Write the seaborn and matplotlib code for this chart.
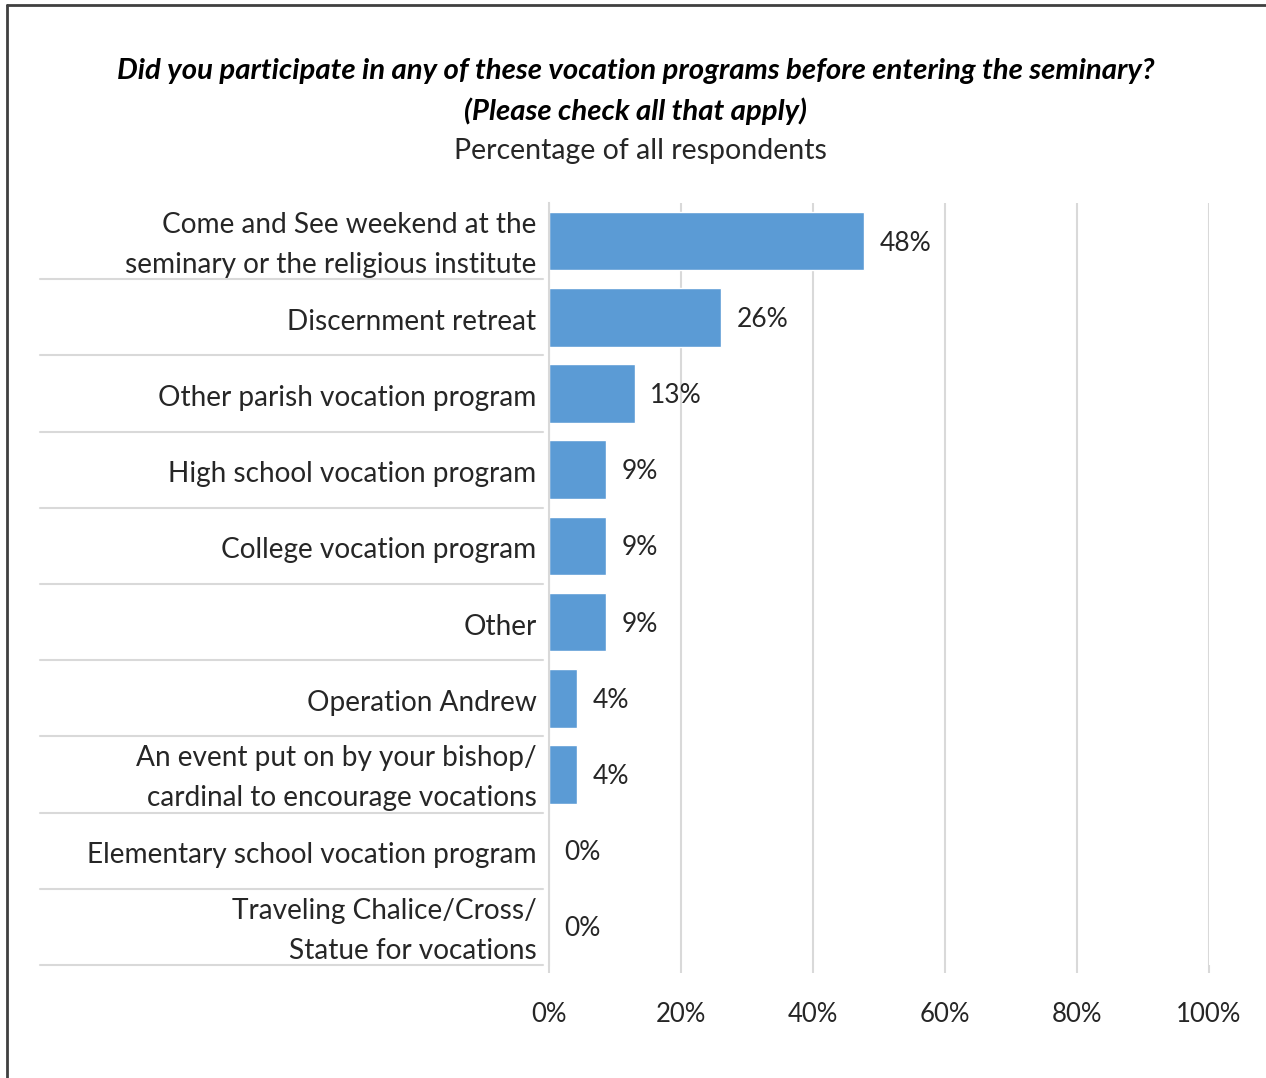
import matplotlib
matplotlib.use("Agg")
import matplotlib.pyplot as plt
import matplotlib.transforms as mtransforms
from matplotlib.lines import Line2D
import seaborn as sns
import pandas as pd

categories = [
    "Come and See weekend at the\nseminary or the religious institute",
    "Discernment retreat",
    "Other parish vocation program",
    "High school vocation program",
    "College vocation program",
    "Other",
    "Operation Andrew",
    "An event put on by your bishop/\ncardinal to encourage vocations",
    "Elementary school vocation program",
    "Traveling Chalice/Cross/\nStatue for vocations",
]
values = [47.8, 26.1, 13.0, 8.7, 8.7, 8.7, 4.3, 4.3, 0.0, 0.0]
xticks = [0, 20, 40, 60, 80, 100]
xtick_labels = ["0%", "20%", "40%", "60%", "80%", "100%"]
title_line1 = "Did you participate in any of these vocation programs before entering the seminary?"
title_line2 = "(Please check all that apply)"
subtitle = "Percentage of all respondents"

df = pd.DataFrame({"category": categories, "value": values})

sns.set_theme(style="white")
plt.rcParams["font.family"] = ["Lato", "DejaVu Sans"]

TEXT = "#262626"
GRID = "#D9D9D9"
BAR = "#5B9BD5"

W, H = 1266, 1078
fig = plt.figure(figsize=(W / 100, H / 100), dpi=100)
ax = fig.add_axes([549 / W, 1 - 965 / H, (1209 - 549) / W, (965 - 203) / H])

sns.barplot(data=df, x="value", y="category", orient="h", color=BAR,
            width=0.77, saturation=1, ax=ax, order=categories)

ax.set_xlim(0, 100)
ax.set_ylim(len(categories) - 0.5, -0.5)
ax.set_xticks(xticks)
ax.set_xticklabels(xtick_labels)
ax.grid(axis="x", color=GRID, linewidth=1.5)
ax.set_axisbelow(True)
for s in ["top", "right", "bottom"]:
    ax.spines[s].set_visible(False)
ax.spines["left"].set_color(GRID)
ax.spines["left"].set_linewidth(1.5)
ax.tick_params(axis="x", length=6, width=1.5, color=GRID, pad=21,
               labelsize=18.5, labelcolor=TEXT, bottom=True)
ax.tick_params(axis="y", length=0, pad=9, labelsize=20.2, labelcolor=TEXT)
ax.set_xlabel("")
ax.set_ylabel("")

# fine vertical placement of category labels
for lbl in ax.get_yticklabels():
    lbl.set_linespacing(1.68)
    dy = 4.2 / 72 if "\n" in lbl.get_text() else -1.5 / 72
    lbl.set_transform(lbl.get_transform() +
                      mtransforms.ScaledTranslation(0, dy, fig.dpi_scale_trans))

# value labels
for i, v in enumerate(values):
    ax.annotate(f"{v:.0f}%", xy=(v, i), xytext=(11, -1.5), textcoords="offset points",
                ha="left", va="center", fontsize=19, color=TEXT)

# category separators in the label area
trans = mtransforms.blended_transform_factory(ax.transAxes, ax.transData)
for i in range(len(categories)):
    ax.plot([-0.771, -0.009], [i + 0.5, i + 0.5], transform=trans, color=GRID,
            linewidth=1.5, clip_on=False)

# titles
fig.text(636 / W, 1 - 71 / H, title_line1, ha="center", va="center",
         fontsize=21.2, fontweight="bold", fontstyle="italic", color="#000000")
fig.text(635 / W, 1 - 111 / H, title_line2, ha="center", va="center",
         fontsize=21.2, fontweight="bold", fontstyle="italic", color="#000000")
fig.text(640 / W, 1 - 151.5 / H, subtitle, ha="center", va="center",
         fontsize=20.5, color=TEXT)

# outer frame (left and top edges visible)
fig.add_artist(Line2D([7 / W, 7 / W], [0, 1 - 5 / H], transform=fig.transFigure,
                      color="#404040", linewidth=2))
fig.add_artist(Line2D([7 / W, 1], [1 - 5 / H, 1 - 5 / H], transform=fig.transFigure,
                      color="#404040", linewidth=2))

fig.savefig("out.png", dpi=100)
